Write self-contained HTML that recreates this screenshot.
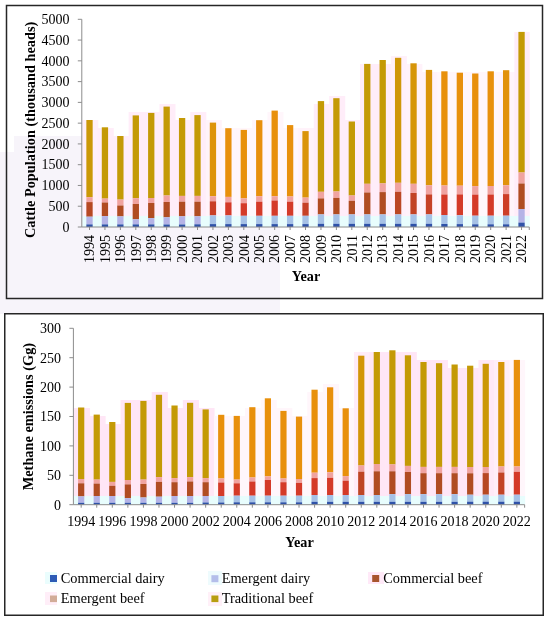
<!DOCTYPE html>
<html><head><meta charset="utf-8"><style>html,body{margin:0;padding:0;background:#fff;width:550px;height:621px;overflow:hidden}</style></head><body>
<svg width="550" height="621" viewBox="0 0 550 621" style="display:block;filter:blur(0.3px)">
<rect x="0" y="0" width="550" height="621" fill="#fff"/>
<rect x="0" y="152" width="280" height="162" fill="#F7F4FA"/>
<rect x="14" y="136" width="68" height="16" fill="#F7F4FA"/>
<rect x="6.5" y="5.5" width="536" height="293" fill="none" stroke="#262626" stroke-width="1.5"/>
<rect x="82.30" y="120" width="16.03" height="96.00" fill="#FFEFF9"/>
<rect x="97.73" y="128" width="16.03" height="88.00" fill="#FFEDF9"/>
<rect x="113.16" y="136" width="16.03" height="80.00" fill="#FFEDF9"/>
<rect x="128.59" y="112" width="16.03" height="104.00" fill="#FFEDF9"/>
<rect x="144.02" y="112" width="16.03" height="104.00" fill="#FFEDF9"/>
<rect x="159.45" y="104" width="16.03" height="112.00" fill="#FFEDF9"/>
<rect x="174.88" y="120" width="16.03" height="96.00" fill="#FFEDF9"/>
<rect x="190.31" y="112" width="16.03" height="104.00" fill="#FFEDF9"/>
<rect x="205.74" y="120" width="16.03" height="96.00" fill="#FFF3FA"/>
<rect x="221.17" y="128" width="16.03" height="88.00" fill="#FFF6FB"/>
<rect x="236.60" y="128" width="16.03" height="88.00" fill="#FFF6FB"/>
<rect x="252.03" y="120" width="16.03" height="96.00" fill="#FFF6FB"/>
<rect x="267.46" y="112" width="16.03" height="104.00" fill="#FFF6FB"/>
<rect x="282.89" y="128" width="16.03" height="88.00" fill="#FFF6FB"/>
<rect x="298.32" y="128" width="16.03" height="88.00" fill="#FFF2FA"/>
<rect x="313.75" y="104" width="16.03" height="112.00" fill="#FFEDF9"/>
<rect x="329.18" y="96" width="16.03" height="120.00" fill="#FFEDF9"/>
<rect x="344.61" y="120" width="16.03" height="96.00" fill="#FFEDF9"/>
<rect x="360.04" y="64" width="16.03" height="152.00" fill="#FFEDF9"/>
<rect x="375.47" y="64" width="16.03" height="152.00" fill="#FFEDF9"/>
<rect x="390.90" y="56" width="16.03" height="160.00" fill="#FFF0FA"/>
<rect x="406.33" y="64" width="16.03" height="152.00" fill="#FFF2FA"/>
<rect x="421.76" y="72" width="16.03" height="144.00" fill="#FFF2FA"/>
<rect x="437.19" y="72" width="16.03" height="144.00" fill="#FFF6FB"/>
<rect x="452.62" y="72" width="16.03" height="144.00" fill="#FFF6FB"/>
<rect x="468.05" y="72" width="16.03" height="144.00" fill="#FFF6FB"/>
<rect x="483.48" y="72" width="16.03" height="144.00" fill="#FFF6FB"/>
<rect x="498.91" y="72" width="16.03" height="144.00" fill="#FFF4FB"/>
<rect x="514.34" y="32" width="15.43" height="184.00" fill="#FFEDF9"/>
<rect x="82.30" y="216" width="447.47" height="11.00" fill="#E8FDFD"/>
<rect x="86.36" y="120.00" width="6.3" height="77.20" fill="#CB9807"/>
<rect x="86.36" y="197.20" width="6.3" height="4.90" fill="#F0A3A0"/>
<rect x="86.36" y="202.10" width="6.3" height="14.60" fill="#B74823"/>
<rect x="86.36" y="216.70" width="6.3" height="7.70" fill="#B5B3E6"/>
<rect x="86.36" y="224.40" width="6.3" height="2.60" fill="#2F52A8"/>
<rect x="101.79" y="127.30" width="6.3" height="71.30" fill="#C49A06"/>
<rect x="101.79" y="198.60" width="6.3" height="3.90" fill="#F0A3A0"/>
<rect x="101.79" y="202.50" width="6.3" height="13.60" fill="#B04C22"/>
<rect x="101.79" y="216.10" width="6.3" height="8.30" fill="#B5B3E6"/>
<rect x="101.79" y="224.40" width="6.3" height="2.60" fill="#2F52A8"/>
<rect x="117.22" y="136.00" width="6.3" height="63.60" fill="#C49A06"/>
<rect x="117.22" y="199.60" width="6.3" height="5.90" fill="#F0A3A0"/>
<rect x="117.22" y="205.50" width="6.3" height="10.90" fill="#B04C22"/>
<rect x="117.22" y="216.40" width="6.3" height="8.00" fill="#B5B3E6"/>
<rect x="117.22" y="224.40" width="6.3" height="2.60" fill="#2F52A8"/>
<rect x="132.66" y="115.40" width="6.3" height="82.80" fill="#C49A06"/>
<rect x="132.66" y="198.20" width="6.3" height="5.80" fill="#F0A3A0"/>
<rect x="132.66" y="204.00" width="6.3" height="15.30" fill="#B04C22"/>
<rect x="132.66" y="219.30" width="6.3" height="5.10" fill="#B5B3E6"/>
<rect x="132.66" y="224.40" width="6.3" height="2.60" fill="#2F52A8"/>
<rect x="148.09" y="112.90" width="6.3" height="85.10" fill="#C49A06"/>
<rect x="148.09" y="198.00" width="6.3" height="5.00" fill="#F0A3A0"/>
<rect x="148.09" y="203.00" width="6.3" height="15.10" fill="#B04C22"/>
<rect x="148.09" y="218.10" width="6.3" height="6.30" fill="#B5B3E6"/>
<rect x="148.09" y="224.40" width="6.3" height="2.60" fill="#2F52A8"/>
<rect x="163.51" y="106.60" width="6.3" height="88.90" fill="#C49A06"/>
<rect x="163.51" y="195.50" width="6.3" height="6.50" fill="#F0A3A0"/>
<rect x="163.51" y="202.00" width="6.3" height="15.30" fill="#B04C22"/>
<rect x="163.51" y="217.30" width="6.3" height="7.20" fill="#B5B3E6"/>
<rect x="163.51" y="224.50" width="6.3" height="2.50" fill="#2F52A8"/>
<rect x="178.94" y="118.00" width="6.3" height="77.90" fill="#C49A06"/>
<rect x="178.94" y="195.90" width="6.3" height="5.80" fill="#F0A3A0"/>
<rect x="178.94" y="201.70" width="6.3" height="14.60" fill="#B04C22"/>
<rect x="178.94" y="216.30" width="6.3" height="8.20" fill="#B5B3E6"/>
<rect x="178.94" y="224.50" width="6.3" height="2.50" fill="#2F52A8"/>
<rect x="194.37" y="115.10" width="6.3" height="80.80" fill="#C49A06"/>
<rect x="194.37" y="195.90" width="6.3" height="5.80" fill="#F0A3A0"/>
<rect x="194.37" y="201.70" width="6.3" height="14.60" fill="#B04C22"/>
<rect x="194.37" y="216.30" width="6.3" height="8.00" fill="#B5B3E6"/>
<rect x="194.37" y="224.30" width="6.3" height="2.70" fill="#2F52A8"/>
<rect x="209.80" y="122.60" width="6.3" height="73.60" fill="#DD930A"/>
<rect x="209.80" y="196.20" width="6.3" height="5.10" fill="#F0A3A0"/>
<rect x="209.80" y="201.30" width="6.3" height="14.10" fill="#C93F26"/>
<rect x="209.80" y="215.40" width="6.3" height="8.70" fill="#A6C1E6"/>
<rect x="209.80" y="224.10" width="6.3" height="2.90" fill="#2F52A8"/>
<rect x="225.23" y="128.20" width="6.3" height="68.70" fill="#E8900C"/>
<rect x="225.23" y="196.90" width="6.3" height="5.40" fill="#F0A3A0"/>
<rect x="225.23" y="202.30" width="6.3" height="13.10" fill="#D43A28"/>
<rect x="225.23" y="215.40" width="6.3" height="8.70" fill="#A6C1E6"/>
<rect x="225.23" y="224.10" width="6.3" height="2.90" fill="#2F52A8"/>
<rect x="240.66" y="129.90" width="6.3" height="68.50" fill="#E8900C"/>
<rect x="240.66" y="198.40" width="6.3" height="4.80" fill="#F0A3A0"/>
<rect x="240.66" y="203.20" width="6.3" height="12.60" fill="#D43A28"/>
<rect x="240.66" y="215.80" width="6.3" height="8.30" fill="#A6C1E6"/>
<rect x="240.66" y="224.10" width="6.3" height="2.90" fill="#2F52A8"/>
<rect x="256.10" y="120.20" width="6.3" height="76.00" fill="#E8900C"/>
<rect x="256.10" y="196.20" width="6.3" height="5.50" fill="#F0A3A0"/>
<rect x="256.10" y="201.70" width="6.3" height="14.10" fill="#D43A28"/>
<rect x="256.10" y="215.80" width="6.3" height="8.30" fill="#A6C1E6"/>
<rect x="256.10" y="224.10" width="6.3" height="2.90" fill="#2F52A8"/>
<rect x="271.53" y="110.60" width="6.3" height="85.60" fill="#E8900C"/>
<rect x="271.53" y="196.20" width="6.3" height="4.30" fill="#F0A3A0"/>
<rect x="271.53" y="200.50" width="6.3" height="15.30" fill="#D43A28"/>
<rect x="271.53" y="215.80" width="6.3" height="8.30" fill="#A6C1E6"/>
<rect x="271.53" y="224.10" width="6.3" height="2.90" fill="#2F52A8"/>
<rect x="286.96" y="125.10" width="6.3" height="71.40" fill="#E8900C"/>
<rect x="286.96" y="196.50" width="6.3" height="5.20" fill="#F0A3A0"/>
<rect x="286.96" y="201.70" width="6.3" height="14.10" fill="#D43A28"/>
<rect x="286.96" y="215.80" width="6.3" height="8.30" fill="#A6C1E6"/>
<rect x="286.96" y="224.10" width="6.3" height="2.90" fill="#2F52A8"/>
<rect x="302.38" y="131.10" width="6.3" height="66.50" fill="#DA940A"/>
<rect x="302.38" y="197.60" width="6.3" height="5.10" fill="#F0A3A0"/>
<rect x="302.38" y="202.70" width="6.3" height="13.10" fill="#C64126"/>
<rect x="302.38" y="215.80" width="6.3" height="8.30" fill="#A6C1E6"/>
<rect x="302.38" y="224.10" width="6.3" height="2.90" fill="#2F52A8"/>
<rect x="317.81" y="101.10" width="6.3" height="90.70" fill="#C49A06"/>
<rect x="317.81" y="191.80" width="6.3" height="6.60" fill="#F0A3A0"/>
<rect x="317.81" y="198.40" width="6.3" height="16.00" fill="#B04C22"/>
<rect x="317.81" y="214.40" width="6.3" height="9.40" fill="#A6C1E6"/>
<rect x="317.81" y="223.80" width="6.3" height="3.20" fill="#2F52A8"/>
<rect x="333.25" y="98.20" width="6.3" height="93.30" fill="#C49A06"/>
<rect x="333.25" y="191.50" width="6.3" height="6.40" fill="#F0A3A0"/>
<rect x="333.25" y="197.90" width="6.3" height="16.50" fill="#B04C22"/>
<rect x="333.25" y="214.40" width="6.3" height="9.40" fill="#A6C1E6"/>
<rect x="333.25" y="223.80" width="6.3" height="3.20" fill="#2F52A8"/>
<rect x="348.68" y="121.50" width="6.3" height="74.00" fill="#C49A06"/>
<rect x="348.68" y="195.50" width="6.3" height="5.30" fill="#F0A3A0"/>
<rect x="348.68" y="200.80" width="6.3" height="13.60" fill="#B04C22"/>
<rect x="348.68" y="214.40" width="6.3" height="9.40" fill="#A6C1E6"/>
<rect x="348.68" y="223.80" width="6.3" height="3.20" fill="#2F52A8"/>
<rect x="364.11" y="63.90" width="6.3" height="119.90" fill="#C49A06"/>
<rect x="364.11" y="183.80" width="6.3" height="8.70" fill="#F0A3A0"/>
<rect x="364.11" y="192.50" width="6.3" height="21.90" fill="#B04C22"/>
<rect x="364.11" y="214.40" width="6.3" height="9.40" fill="#A6C1E6"/>
<rect x="364.11" y="223.80" width="6.3" height="3.20" fill="#2F52A8"/>
<rect x="379.54" y="60.00" width="6.3" height="123.40" fill="#C49A06"/>
<rect x="379.54" y="183.40" width="6.3" height="8.70" fill="#F0A3A0"/>
<rect x="379.54" y="192.10" width="6.3" height="22.30" fill="#B04C22"/>
<rect x="379.54" y="214.40" width="6.3" height="9.40" fill="#A6C1E6"/>
<rect x="379.54" y="223.80" width="6.3" height="3.20" fill="#2F52A8"/>
<rect x="394.97" y="57.80" width="6.3" height="125.00" fill="#CF9708"/>
<rect x="394.97" y="182.80" width="6.3" height="9.00" fill="#F0A3A0"/>
<rect x="394.97" y="191.80" width="6.3" height="22.60" fill="#BB4724"/>
<rect x="394.97" y="214.40" width="6.3" height="9.40" fill="#A6C1E6"/>
<rect x="394.97" y="223.80" width="6.3" height="3.20" fill="#2F52A8"/>
<rect x="410.40" y="63.30" width="6.3" height="120.50" fill="#D69509"/>
<rect x="410.40" y="183.80" width="6.3" height="9.20" fill="#F0A3A0"/>
<rect x="410.40" y="193.00" width="6.3" height="21.40" fill="#C24325"/>
<rect x="410.40" y="214.40" width="6.3" height="9.40" fill="#A6C1E6"/>
<rect x="410.40" y="223.80" width="6.3" height="3.20" fill="#2F52A8"/>
<rect x="425.83" y="69.90" width="6.3" height="115.40" fill="#DA940A"/>
<rect x="425.83" y="185.30" width="6.3" height="9.10" fill="#F0A3A0"/>
<rect x="425.83" y="194.40" width="6.3" height="20.00" fill="#C64126"/>
<rect x="425.83" y="214.40" width="6.3" height="9.40" fill="#A6C1E6"/>
<rect x="425.83" y="223.80" width="6.3" height="3.20" fill="#2F52A8"/>
<rect x="441.26" y="71.30" width="6.3" height="114.20" fill="#E8900C"/>
<rect x="441.26" y="185.50" width="6.3" height="9.00" fill="#F0A3A0"/>
<rect x="441.26" y="194.50" width="6.3" height="20.50" fill="#D43A28"/>
<rect x="441.26" y="215.00" width="6.3" height="9.00" fill="#A6C1E6"/>
<rect x="441.26" y="224.00" width="6.3" height="3.00" fill="#2F52A8"/>
<rect x="456.69" y="72.70" width="6.3" height="113.00" fill="#E8900C"/>
<rect x="456.69" y="185.70" width="6.3" height="8.70" fill="#F0A3A0"/>
<rect x="456.69" y="194.40" width="6.3" height="20.80" fill="#D43A28"/>
<rect x="456.69" y="215.20" width="6.3" height="8.90" fill="#A6C1E6"/>
<rect x="456.69" y="224.10" width="6.3" height="2.90" fill="#2F52A8"/>
<rect x="472.12" y="73.50" width="6.3" height="112.60" fill="#E8900C"/>
<rect x="472.12" y="186.10" width="6.3" height="8.50" fill="#F0A3A0"/>
<rect x="472.12" y="194.60" width="6.3" height="21.10" fill="#D43A28"/>
<rect x="472.12" y="215.70" width="6.3" height="8.60" fill="#A6C1E6"/>
<rect x="472.12" y="224.30" width="6.3" height="2.70" fill="#2F52A8"/>
<rect x="487.55" y="71.30" width="6.3" height="114.70" fill="#E8900C"/>
<rect x="487.55" y="186.00" width="6.3" height="8.50" fill="#F0A3A0"/>
<rect x="487.55" y="194.50" width="6.3" height="21.20" fill="#D43A28"/>
<rect x="487.55" y="215.70" width="6.3" height="8.60" fill="#A6C1E6"/>
<rect x="487.55" y="224.30" width="6.3" height="2.70" fill="#2F52A8"/>
<rect x="502.98" y="70.20" width="6.3" height="115.00" fill="#E1920B"/>
<rect x="502.98" y="185.20" width="6.3" height="8.90" fill="#F0A3A0"/>
<rect x="502.98" y="194.10" width="6.3" height="21.60" fill="#CD3E27"/>
<rect x="502.98" y="215.70" width="6.3" height="8.60" fill="#A6C1E6"/>
<rect x="502.98" y="224.30" width="6.3" height="2.70" fill="#2F52A8"/>
<rect x="518.40" y="31.90" width="6.3" height="140.60" fill="#C49A06"/>
<rect x="518.40" y="172.50" width="6.3" height="11.00" fill="#F0A3A0"/>
<rect x="518.40" y="183.50" width="6.3" height="25.50" fill="#B04C22"/>
<rect x="518.40" y="209.00" width="6.3" height="13.60" fill="#B5B3E6"/>
<rect x="518.40" y="222.60" width="6.3" height="4.40" fill="#2F52A8"/>
<path d="M81.80 19.3 V227.0 H529.27" fill="none" stroke="#8c8c8c" stroke-width="1"/>
<path d="M77.80 227.00 H81.80" stroke="#8c8c8c" stroke-width="1"/>
<text x="69.5" y="231.80" text-anchor="end" style="font-family:'Liberation Serif',serif;font-size:14px" fill="#000">0</text>
<path d="M77.80 206.23 H81.80" stroke="#8c8c8c" stroke-width="1"/>
<text x="69.5" y="211.03" text-anchor="end" style="font-family:'Liberation Serif',serif;font-size:14px" fill="#000">500</text>
<path d="M77.80 185.46 H81.80" stroke="#8c8c8c" stroke-width="1"/>
<text x="69.5" y="190.26" text-anchor="end" style="font-family:'Liberation Serif',serif;font-size:14px" fill="#000">1000</text>
<path d="M77.80 164.69 H81.80" stroke="#8c8c8c" stroke-width="1"/>
<text x="69.5" y="169.49" text-anchor="end" style="font-family:'Liberation Serif',serif;font-size:14px" fill="#000">1500</text>
<path d="M77.80 143.92 H81.80" stroke="#8c8c8c" stroke-width="1"/>
<text x="69.5" y="148.72" text-anchor="end" style="font-family:'Liberation Serif',serif;font-size:14px" fill="#000">2000</text>
<path d="M77.80 123.15 H81.80" stroke="#8c8c8c" stroke-width="1"/>
<text x="69.5" y="127.95" text-anchor="end" style="font-family:'Liberation Serif',serif;font-size:14px" fill="#000">2500</text>
<path d="M77.80 102.38 H81.80" stroke="#8c8c8c" stroke-width="1"/>
<text x="69.5" y="107.18" text-anchor="end" style="font-family:'Liberation Serif',serif;font-size:14px" fill="#000">3000</text>
<path d="M77.80 81.61 H81.80" stroke="#8c8c8c" stroke-width="1"/>
<text x="69.5" y="86.41" text-anchor="end" style="font-family:'Liberation Serif',serif;font-size:14px" fill="#000">3500</text>
<path d="M77.80 60.84 H81.80" stroke="#8c8c8c" stroke-width="1"/>
<text x="69.5" y="65.64" text-anchor="end" style="font-family:'Liberation Serif',serif;font-size:14px" fill="#000">4000</text>
<path d="M77.80 40.07 H81.80" stroke="#8c8c8c" stroke-width="1"/>
<text x="69.5" y="44.87" text-anchor="end" style="font-family:'Liberation Serif',serif;font-size:14px" fill="#000">4500</text>
<path d="M77.80 19.30 H81.80" stroke="#8c8c8c" stroke-width="1"/>
<text x="69.5" y="24.10" text-anchor="end" style="font-family:'Liberation Serif',serif;font-size:14px" fill="#000">5000</text>
<path d="M89.52 227.0 v3" stroke="#8c8c8c" stroke-width="1"/>
<path d="M104.94 227.0 v3" stroke="#8c8c8c" stroke-width="1"/>
<path d="M120.38 227.0 v3" stroke="#8c8c8c" stroke-width="1"/>
<path d="M135.81 227.0 v3" stroke="#8c8c8c" stroke-width="1"/>
<path d="M151.24 227.0 v3" stroke="#8c8c8c" stroke-width="1"/>
<path d="M166.66 227.0 v3" stroke="#8c8c8c" stroke-width="1"/>
<path d="M182.09 227.0 v3" stroke="#8c8c8c" stroke-width="1"/>
<path d="M197.52 227.0 v3" stroke="#8c8c8c" stroke-width="1"/>
<path d="M212.95 227.0 v3" stroke="#8c8c8c" stroke-width="1"/>
<path d="M228.38 227.0 v3" stroke="#8c8c8c" stroke-width="1"/>
<path d="M243.81 227.0 v3" stroke="#8c8c8c" stroke-width="1"/>
<path d="M259.25 227.0 v3" stroke="#8c8c8c" stroke-width="1"/>
<path d="M274.68 227.0 v3" stroke="#8c8c8c" stroke-width="1"/>
<path d="M290.11 227.0 v3" stroke="#8c8c8c" stroke-width="1"/>
<path d="M305.53 227.0 v3" stroke="#8c8c8c" stroke-width="1"/>
<path d="M320.96 227.0 v3" stroke="#8c8c8c" stroke-width="1"/>
<path d="M336.39 227.0 v3" stroke="#8c8c8c" stroke-width="1"/>
<path d="M351.82 227.0 v3" stroke="#8c8c8c" stroke-width="1"/>
<path d="M367.25 227.0 v3" stroke="#8c8c8c" stroke-width="1"/>
<path d="M382.69 227.0 v3" stroke="#8c8c8c" stroke-width="1"/>
<path d="M398.12 227.0 v3" stroke="#8c8c8c" stroke-width="1"/>
<path d="M413.55 227.0 v3" stroke="#8c8c8c" stroke-width="1"/>
<path d="M428.98 227.0 v3" stroke="#8c8c8c" stroke-width="1"/>
<path d="M444.41 227.0 v3" stroke="#8c8c8c" stroke-width="1"/>
<path d="M459.83 227.0 v3" stroke="#8c8c8c" stroke-width="1"/>
<path d="M475.26 227.0 v3" stroke="#8c8c8c" stroke-width="1"/>
<path d="M490.69 227.0 v3" stroke="#8c8c8c" stroke-width="1"/>
<path d="M506.12 227.0 v3" stroke="#8c8c8c" stroke-width="1"/>
<path d="M521.55 227.0 v3" stroke="#8c8c8c" stroke-width="1"/>
<path d="M529.27 227.0 v3" stroke="#8c8c8c" stroke-width="1"/>
<text transform="translate(94.22 235) rotate(-90)" text-anchor="end" style="font-family:'Liberation Serif',serif;font-size:14px" fill="#000">1994</text>
<text transform="translate(109.64 235) rotate(-90)" text-anchor="end" style="font-family:'Liberation Serif',serif;font-size:14px" fill="#000">1995</text>
<text transform="translate(125.08 235) rotate(-90)" text-anchor="end" style="font-family:'Liberation Serif',serif;font-size:14px" fill="#000">1996</text>
<text transform="translate(140.50 235) rotate(-90)" text-anchor="end" style="font-family:'Liberation Serif',serif;font-size:14px" fill="#000">1997</text>
<text transform="translate(155.94 235) rotate(-90)" text-anchor="end" style="font-family:'Liberation Serif',serif;font-size:14px" fill="#000">1998</text>
<text transform="translate(171.36 235) rotate(-90)" text-anchor="end" style="font-family:'Liberation Serif',serif;font-size:14px" fill="#000">1999</text>
<text transform="translate(186.79 235) rotate(-90)" text-anchor="end" style="font-family:'Liberation Serif',serif;font-size:14px" fill="#000">2000</text>
<text transform="translate(202.22 235) rotate(-90)" text-anchor="end" style="font-family:'Liberation Serif',serif;font-size:14px" fill="#000">2001</text>
<text transform="translate(217.65 235) rotate(-90)" text-anchor="end" style="font-family:'Liberation Serif',serif;font-size:14px" fill="#000">2002</text>
<text transform="translate(233.08 235) rotate(-90)" text-anchor="end" style="font-family:'Liberation Serif',serif;font-size:14px" fill="#000">2003</text>
<text transform="translate(248.51 235) rotate(-90)" text-anchor="end" style="font-family:'Liberation Serif',serif;font-size:14px" fill="#000">2004</text>
<text transform="translate(263.94 235) rotate(-90)" text-anchor="end" style="font-family:'Liberation Serif',serif;font-size:14px" fill="#000">2005</text>
<text transform="translate(279.38 235) rotate(-90)" text-anchor="end" style="font-family:'Liberation Serif',serif;font-size:14px" fill="#000">2006</text>
<text transform="translate(294.81 235) rotate(-90)" text-anchor="end" style="font-family:'Liberation Serif',serif;font-size:14px" fill="#000">2007</text>
<text transform="translate(310.23 235) rotate(-90)" text-anchor="end" style="font-family:'Liberation Serif',serif;font-size:14px" fill="#000">2008</text>
<text transform="translate(325.66 235) rotate(-90)" text-anchor="end" style="font-family:'Liberation Serif',serif;font-size:14px" fill="#000">2009</text>
<text transform="translate(341.09 235) rotate(-90)" text-anchor="end" style="font-family:'Liberation Serif',serif;font-size:14px" fill="#000">2010</text>
<text transform="translate(356.52 235) rotate(-90)" text-anchor="end" style="font-family:'Liberation Serif',serif;font-size:14px" fill="#000">2011</text>
<text transform="translate(371.95 235) rotate(-90)" text-anchor="end" style="font-family:'Liberation Serif',serif;font-size:14px" fill="#000">2012</text>
<text transform="translate(387.38 235) rotate(-90)" text-anchor="end" style="font-family:'Liberation Serif',serif;font-size:14px" fill="#000">2013</text>
<text transform="translate(402.81 235) rotate(-90)" text-anchor="end" style="font-family:'Liberation Serif',serif;font-size:14px" fill="#000">2014</text>
<text transform="translate(418.25 235) rotate(-90)" text-anchor="end" style="font-family:'Liberation Serif',serif;font-size:14px" fill="#000">2015</text>
<text transform="translate(433.68 235) rotate(-90)" text-anchor="end" style="font-family:'Liberation Serif',serif;font-size:14px" fill="#000">2016</text>
<text transform="translate(449.11 235) rotate(-90)" text-anchor="end" style="font-family:'Liberation Serif',serif;font-size:14px" fill="#000">2017</text>
<text transform="translate(464.53 235) rotate(-90)" text-anchor="end" style="font-family:'Liberation Serif',serif;font-size:14px" fill="#000">2018</text>
<text transform="translate(479.96 235) rotate(-90)" text-anchor="end" style="font-family:'Liberation Serif',serif;font-size:14px" fill="#000">2019</text>
<text transform="translate(495.39 235) rotate(-90)" text-anchor="end" style="font-family:'Liberation Serif',serif;font-size:14px" fill="#000">2020</text>
<text transform="translate(510.82 235) rotate(-90)" text-anchor="end" style="font-family:'Liberation Serif',serif;font-size:14px" fill="#000">2021</text>
<text transform="translate(526.25 235) rotate(-90)" text-anchor="end" style="font-family:'Liberation Serif',serif;font-size:14px" fill="#000">2022</text>
<text transform="translate(34.5 129.9) rotate(-90)" text-anchor="middle" style="font-family:'Liberation Serif',serif;font-size:14.35px;font-weight:bold" fill="#000">Cattle Population (thousand heads)</text>
<text x="306" y="281.4" text-anchor="middle" style="font-family:'Liberation Serif',serif;font-size:14.2px;font-weight:bold" fill="#000">Year</text>
<rect x="4.75" y="313.75" width="538.5" height="301.5" fill="none" stroke="#262626" stroke-width="1.5"/>
<rect x="73.90" y="408" width="16.16" height="88.00" fill="#FFE6F6"/>
<rect x="89.46" y="416" width="16.16" height="80.00" fill="#FFE6F6"/>
<rect x="105.02" y="424" width="16.16" height="72.00" fill="#FFE6F6"/>
<rect x="120.58" y="400" width="16.16" height="96.00" fill="#FFE6F6"/>
<rect x="136.14" y="400" width="16.16" height="96.00" fill="#FFE6F6"/>
<rect x="151.70" y="392" width="16.16" height="104.00" fill="#FFE6F6"/>
<rect x="167.26" y="408" width="16.16" height="88.00" fill="#FFE6F6"/>
<rect x="182.82" y="400" width="16.16" height="96.00" fill="#FFE6F6"/>
<rect x="198.38" y="408" width="16.16" height="88.00" fill="#FFE6F6"/>
<rect x="213.94" y="416" width="16.16" height="80.00" fill="#FFF6FB"/>
<rect x="229.50" y="416" width="16.16" height="80.00" fill="#FFF6FB"/>
<rect x="245.06" y="408" width="16.16" height="88.00" fill="#FFF6FB"/>
<rect x="260.62" y="400" width="16.16" height="96.00" fill="#FFF6FB"/>
<rect x="276.18" y="408" width="16.16" height="88.00" fill="#FFF6FB"/>
<rect x="291.74" y="416" width="16.16" height="80.00" fill="#FFF6FB"/>
<rect x="307.30" y="392" width="16.16" height="104.00" fill="#FFF6FB"/>
<rect x="322.86" y="384" width="16.16" height="112.00" fill="#FFF6FB"/>
<rect x="338.42" y="408" width="16.16" height="88.00" fill="#FFF6FB"/>
<rect x="353.98" y="352" width="16.16" height="144.00" fill="#FFECF8"/>
<rect x="369.54" y="352" width="16.16" height="144.00" fill="#FFE6F6"/>
<rect x="385.10" y="352" width="16.16" height="144.00" fill="#FFE6F6"/>
<rect x="400.66" y="352" width="16.16" height="144.00" fill="#FFE6F6"/>
<rect x="416.22" y="360" width="16.16" height="136.00" fill="#FFE6F6"/>
<rect x="431.78" y="360" width="16.16" height="136.00" fill="#FFE6F6"/>
<rect x="447.34" y="368" width="16.16" height="128.00" fill="#FFE6F6"/>
<rect x="462.90" y="368" width="16.16" height="128.00" fill="#FFE6F6"/>
<rect x="478.46" y="360" width="16.16" height="136.00" fill="#FFE9F7"/>
<rect x="494.02" y="360" width="16.16" height="136.00" fill="#FFEEF8"/>
<rect x="509.58" y="360" width="15.56" height="136.00" fill="#FFF6FB"/>
<rect x="73.90" y="496" width="451.24" height="8.70" fill="#E8FDFD"/>
<rect x="78.08" y="407.50" width="6.2" height="71.50" fill="#C49A06"/>
<rect x="78.08" y="479.00" width="6.2" height="4.30" fill="#F0A3A0"/>
<rect x="78.08" y="483.30" width="6.2" height="13.10" fill="#B04C22"/>
<rect x="78.08" y="496.40" width="6.2" height="6.40" fill="#B5B3E6"/>
<rect x="78.08" y="502.80" width="6.2" height="1.90" fill="#2F52A8"/>
<rect x="93.64" y="414.60" width="6.2" height="65.00" fill="#C49A06"/>
<rect x="93.64" y="479.60" width="6.2" height="4.00" fill="#F0A3A0"/>
<rect x="93.64" y="483.60" width="6.2" height="12.40" fill="#B04C22"/>
<rect x="93.64" y="496.00" width="6.2" height="6.80" fill="#B5B3E6"/>
<rect x="93.64" y="502.80" width="6.2" height="1.90" fill="#2F52A8"/>
<rect x="109.20" y="422.00" width="6.2" height="59.90" fill="#C49A06"/>
<rect x="109.20" y="481.90" width="6.2" height="3.90" fill="#F0A3A0"/>
<rect x="109.20" y="485.80" width="6.2" height="10.20" fill="#B04C22"/>
<rect x="109.20" y="496.00" width="6.2" height="6.80" fill="#B5B3E6"/>
<rect x="109.20" y="502.80" width="6.2" height="1.90" fill="#2F52A8"/>
<rect x="124.76" y="402.90" width="6.2" height="77.10" fill="#C49A06"/>
<rect x="124.76" y="480.00" width="6.2" height="4.40" fill="#F0A3A0"/>
<rect x="124.76" y="484.40" width="6.2" height="13.80" fill="#B04C22"/>
<rect x="124.76" y="498.20" width="6.2" height="4.60" fill="#B5B3E6"/>
<rect x="124.76" y="502.80" width="6.2" height="1.90" fill="#2F52A8"/>
<rect x="140.32" y="400.90" width="6.2" height="78.70" fill="#C49A06"/>
<rect x="140.32" y="479.60" width="6.2" height="4.40" fill="#F0A3A0"/>
<rect x="140.32" y="484.00" width="6.2" height="13.50" fill="#B04C22"/>
<rect x="140.32" y="497.50" width="6.2" height="5.30" fill="#B5B3E6"/>
<rect x="140.32" y="502.80" width="6.2" height="1.90" fill="#2F52A8"/>
<rect x="155.88" y="394.80" width="6.2" height="82.30" fill="#C49A06"/>
<rect x="155.88" y="477.10" width="6.2" height="4.80" fill="#F0A3A0"/>
<rect x="155.88" y="481.90" width="6.2" height="14.80" fill="#B04C22"/>
<rect x="155.88" y="496.70" width="6.2" height="6.10" fill="#B5B3E6"/>
<rect x="155.88" y="502.80" width="6.2" height="1.90" fill="#2F52A8"/>
<rect x="171.44" y="405.50" width="6.2" height="72.60" fill="#C49A06"/>
<rect x="171.44" y="478.10" width="6.2" height="4.10" fill="#F0A3A0"/>
<rect x="171.44" y="482.20" width="6.2" height="13.80" fill="#B04C22"/>
<rect x="171.44" y="496.00" width="6.2" height="6.80" fill="#B5B3E6"/>
<rect x="171.44" y="502.80" width="6.2" height="1.90" fill="#2F52A8"/>
<rect x="187.00" y="402.80" width="6.2" height="74.30" fill="#C49A06"/>
<rect x="187.00" y="477.10" width="6.2" height="4.40" fill="#F0A3A0"/>
<rect x="187.00" y="481.50" width="6.2" height="14.50" fill="#B04C22"/>
<rect x="187.00" y="496.00" width="6.2" height="6.80" fill="#B5B3E6"/>
<rect x="187.00" y="502.80" width="6.2" height="1.90" fill="#2F52A8"/>
<rect x="202.56" y="409.40" width="6.2" height="68.70" fill="#C49A06"/>
<rect x="202.56" y="478.10" width="6.2" height="4.10" fill="#F0A3A0"/>
<rect x="202.56" y="482.20" width="6.2" height="13.80" fill="#B04C22"/>
<rect x="202.56" y="496.00" width="6.2" height="6.50" fill="#B5B3E6"/>
<rect x="202.56" y="502.50" width="6.2" height="2.20" fill="#2F52A8"/>
<rect x="218.12" y="414.80" width="6.2" height="63.70" fill="#E8900C"/>
<rect x="218.12" y="478.50" width="6.2" height="4.00" fill="#F0A3A0"/>
<rect x="218.12" y="482.50" width="6.2" height="13.50" fill="#D43A28"/>
<rect x="218.12" y="496.00" width="6.2" height="6.50" fill="#A6C1E6"/>
<rect x="218.12" y="502.50" width="6.2" height="2.20" fill="#2F52A8"/>
<rect x="233.68" y="415.90" width="6.2" height="63.70" fill="#E8900C"/>
<rect x="233.68" y="479.60" width="6.2" height="3.70" fill="#F0A3A0"/>
<rect x="233.68" y="483.30" width="6.2" height="12.40" fill="#D43A28"/>
<rect x="233.68" y="495.70" width="6.2" height="6.60" fill="#A6C1E6"/>
<rect x="233.68" y="502.30" width="6.2" height="2.40" fill="#2F52A8"/>
<rect x="249.24" y="407.20" width="6.2" height="70.30" fill="#E8900C"/>
<rect x="249.24" y="477.50" width="6.2" height="4.00" fill="#F0A3A0"/>
<rect x="249.24" y="481.50" width="6.2" height="14.20" fill="#D43A28"/>
<rect x="249.24" y="495.70" width="6.2" height="6.60" fill="#A6C1E6"/>
<rect x="249.24" y="502.30" width="6.2" height="2.40" fill="#2F52A8"/>
<rect x="264.80" y="398.30" width="6.2" height="78.10" fill="#E8900C"/>
<rect x="264.80" y="476.40" width="6.2" height="3.60" fill="#F0A3A0"/>
<rect x="264.80" y="480.00" width="6.2" height="15.70" fill="#D43A28"/>
<rect x="264.80" y="495.70" width="6.2" height="6.60" fill="#A6C1E6"/>
<rect x="264.80" y="502.30" width="6.2" height="2.40" fill="#2F52A8"/>
<rect x="280.36" y="410.90" width="6.2" height="67.60" fill="#E8900C"/>
<rect x="280.36" y="478.50" width="6.2" height="3.70" fill="#F0A3A0"/>
<rect x="280.36" y="482.20" width="6.2" height="13.50" fill="#D43A28"/>
<rect x="280.36" y="495.70" width="6.2" height="6.60" fill="#A6C1E6"/>
<rect x="280.36" y="502.30" width="6.2" height="2.40" fill="#2F52A8"/>
<rect x="295.92" y="416.60" width="6.2" height="62.40" fill="#E8900C"/>
<rect x="295.92" y="479.00" width="6.2" height="3.90" fill="#F0A3A0"/>
<rect x="295.92" y="482.90" width="6.2" height="12.80" fill="#D43A28"/>
<rect x="295.92" y="495.70" width="6.2" height="6.60" fill="#A6C1E6"/>
<rect x="295.92" y="502.30" width="6.2" height="2.40" fill="#2F52A8"/>
<rect x="311.48" y="389.70" width="6.2" height="83.00" fill="#E8900C"/>
<rect x="311.48" y="472.70" width="6.2" height="5.40" fill="#F0A3A0"/>
<rect x="311.48" y="478.10" width="6.2" height="16.90" fill="#D43A28"/>
<rect x="311.48" y="495.00" width="6.2" height="6.80" fill="#A6C1E6"/>
<rect x="311.48" y="501.80" width="6.2" height="2.90" fill="#2F52A8"/>
<rect x="327.04" y="387.30" width="6.2" height="85.00" fill="#E8900C"/>
<rect x="327.04" y="472.30" width="6.2" height="5.50" fill="#F0A3A0"/>
<rect x="327.04" y="477.80" width="6.2" height="17.20" fill="#D43A28"/>
<rect x="327.04" y="495.00" width="6.2" height="6.80" fill="#A6C1E6"/>
<rect x="327.04" y="501.80" width="6.2" height="2.90" fill="#2F52A8"/>
<rect x="342.60" y="408.30" width="6.2" height="67.80" fill="#E8900C"/>
<rect x="342.60" y="476.10" width="6.2" height="4.60" fill="#F0A3A0"/>
<rect x="342.60" y="480.70" width="6.2" height="14.30" fill="#D43A28"/>
<rect x="342.60" y="495.00" width="6.2" height="6.80" fill="#A6C1E6"/>
<rect x="342.60" y="501.80" width="6.2" height="2.90" fill="#2F52A8"/>
<rect x="358.16" y="355.70" width="6.2" height="109.80" fill="#D29608"/>
<rect x="358.16" y="465.50" width="6.2" height="6.20" fill="#F0A3A0"/>
<rect x="358.16" y="471.70" width="6.2" height="23.30" fill="#BE4524"/>
<rect x="358.16" y="495.00" width="6.2" height="6.80" fill="#A6C1E6"/>
<rect x="358.16" y="501.80" width="6.2" height="2.90" fill="#2F52A8"/>
<rect x="373.72" y="352.00" width="6.2" height="112.00" fill="#C49A06"/>
<rect x="373.72" y="464.00" width="6.2" height="7.30" fill="#F0A3A0"/>
<rect x="373.72" y="471.30" width="6.2" height="23.70" fill="#B04C22"/>
<rect x="373.72" y="495.00" width="6.2" height="6.80" fill="#A6C1E6"/>
<rect x="373.72" y="501.80" width="6.2" height="2.90" fill="#2F52A8"/>
<rect x="389.28" y="350.30" width="6.2" height="114.10" fill="#C49A06"/>
<rect x="389.28" y="464.40" width="6.2" height="6.90" fill="#F0A3A0"/>
<rect x="389.28" y="471.30" width="6.2" height="22.80" fill="#B04C22"/>
<rect x="389.28" y="494.10" width="6.2" height="7.70" fill="#A6C1E6"/>
<rect x="389.28" y="501.80" width="6.2" height="2.90" fill="#2F52A8"/>
<rect x="404.84" y="355.30" width="6.2" height="110.60" fill="#C49A06"/>
<rect x="404.84" y="465.90" width="6.2" height="6.10" fill="#F0A3A0"/>
<rect x="404.84" y="472.00" width="6.2" height="22.10" fill="#B04C22"/>
<rect x="404.84" y="494.10" width="6.2" height="7.70" fill="#A6C1E6"/>
<rect x="404.84" y="501.80" width="6.2" height="2.90" fill="#2F52A8"/>
<rect x="420.40" y="362.00" width="6.2" height="104.90" fill="#C49A06"/>
<rect x="420.40" y="466.90" width="6.2" height="6.30" fill="#F0A3A0"/>
<rect x="420.40" y="473.20" width="6.2" height="20.90" fill="#B04C22"/>
<rect x="420.40" y="494.10" width="6.2" height="7.70" fill="#A6C1E6"/>
<rect x="420.40" y="501.80" width="6.2" height="2.90" fill="#2F52A8"/>
<rect x="435.96" y="363.20" width="6.2" height="103.70" fill="#C49A06"/>
<rect x="435.96" y="466.90" width="6.2" height="6.30" fill="#F0A3A0"/>
<rect x="435.96" y="473.20" width="6.2" height="20.90" fill="#B04C22"/>
<rect x="435.96" y="494.10" width="6.2" height="7.70" fill="#A6C1E6"/>
<rect x="435.96" y="501.80" width="6.2" height="2.90" fill="#2F52A8"/>
<rect x="451.52" y="364.50" width="6.2" height="102.40" fill="#C49A06"/>
<rect x="451.52" y="466.90" width="6.2" height="6.30" fill="#F0A3A0"/>
<rect x="451.52" y="473.20" width="6.2" height="20.90" fill="#B04C22"/>
<rect x="451.52" y="494.10" width="6.2" height="7.70" fill="#A6C1E6"/>
<rect x="451.52" y="501.80" width="6.2" height="2.90" fill="#2F52A8"/>
<rect x="467.08" y="365.70" width="6.2" height="101.30" fill="#C49A06"/>
<rect x="467.08" y="467.00" width="6.2" height="6.30" fill="#F0A3A0"/>
<rect x="467.08" y="473.30" width="6.2" height="21.40" fill="#B04C22"/>
<rect x="467.08" y="494.70" width="6.2" height="7.00" fill="#A6C1E6"/>
<rect x="467.08" y="501.70" width="6.2" height="3.00" fill="#2F52A8"/>
<rect x="482.64" y="363.80" width="6.2" height="103.20" fill="#CB9807"/>
<rect x="482.64" y="467.00" width="6.2" height="6.10" fill="#F0A3A0"/>
<rect x="482.64" y="473.10" width="6.2" height="21.60" fill="#B74823"/>
<rect x="482.64" y="494.70" width="6.2" height="7.00" fill="#A6C1E6"/>
<rect x="482.64" y="501.70" width="6.2" height="3.00" fill="#2F52A8"/>
<rect x="498.20" y="362.00" width="6.2" height="104.50" fill="#D69509"/>
<rect x="498.20" y="466.50" width="6.2" height="6.00" fill="#F0A3A0"/>
<rect x="498.20" y="472.50" width="6.2" height="22.20" fill="#C24325"/>
<rect x="498.20" y="494.70" width="6.2" height="7.00" fill="#A6C1E6"/>
<rect x="498.20" y="501.70" width="6.2" height="3.00" fill="#2F52A8"/>
<rect x="513.76" y="359.90" width="6.2" height="106.60" fill="#E8900C"/>
<rect x="513.76" y="466.50" width="6.2" height="5.30" fill="#F0A3A0"/>
<rect x="513.76" y="471.80" width="6.2" height="22.90" fill="#D43A28"/>
<rect x="513.76" y="494.70" width="6.2" height="7.00" fill="#A6C1E6"/>
<rect x="513.76" y="501.70" width="6.2" height="3.00" fill="#2F52A8"/>
<path d="M73.40 328.3 V504.7 H524.64" fill="none" stroke="#8c8c8c" stroke-width="1"/>
<path d="M69.40 504.70 H73.40" stroke="#8c8c8c" stroke-width="1"/>
<text x="61" y="509.50" text-anchor="end" style="font-family:'Liberation Serif',serif;font-size:14px" fill="#000">0</text>
<path d="M69.40 475.30 H73.40" stroke="#8c8c8c" stroke-width="1"/>
<text x="61" y="480.10" text-anchor="end" style="font-family:'Liberation Serif',serif;font-size:14px" fill="#000">50</text>
<path d="M69.40 445.90 H73.40" stroke="#8c8c8c" stroke-width="1"/>
<text x="61" y="450.70" text-anchor="end" style="font-family:'Liberation Serif',serif;font-size:14px" fill="#000">100</text>
<path d="M69.40 416.50 H73.40" stroke="#8c8c8c" stroke-width="1"/>
<text x="61" y="421.30" text-anchor="end" style="font-family:'Liberation Serif',serif;font-size:14px" fill="#000">150</text>
<path d="M69.40 387.10 H73.40" stroke="#8c8c8c" stroke-width="1"/>
<text x="61" y="391.90" text-anchor="end" style="font-family:'Liberation Serif',serif;font-size:14px" fill="#000">200</text>
<path d="M69.40 357.70 H73.40" stroke="#8c8c8c" stroke-width="1"/>
<text x="61" y="362.50" text-anchor="end" style="font-family:'Liberation Serif',serif;font-size:14px" fill="#000">250</text>
<path d="M69.40 328.30 H73.40" stroke="#8c8c8c" stroke-width="1"/>
<text x="61" y="333.10" text-anchor="end" style="font-family:'Liberation Serif',serif;font-size:14px" fill="#000">300</text>
<path d="M81.18 504.7 v3" stroke="#8c8c8c" stroke-width="1"/>
<path d="M96.74 504.7 v3" stroke="#8c8c8c" stroke-width="1"/>
<path d="M112.30 504.7 v3" stroke="#8c8c8c" stroke-width="1"/>
<path d="M127.86 504.7 v3" stroke="#8c8c8c" stroke-width="1"/>
<path d="M143.42 504.7 v3" stroke="#8c8c8c" stroke-width="1"/>
<path d="M158.98 504.7 v3" stroke="#8c8c8c" stroke-width="1"/>
<path d="M174.54 504.7 v3" stroke="#8c8c8c" stroke-width="1"/>
<path d="M190.10 504.7 v3" stroke="#8c8c8c" stroke-width="1"/>
<path d="M205.66 504.7 v3" stroke="#8c8c8c" stroke-width="1"/>
<path d="M221.22 504.7 v3" stroke="#8c8c8c" stroke-width="1"/>
<path d="M236.78 504.7 v3" stroke="#8c8c8c" stroke-width="1"/>
<path d="M252.34 504.7 v3" stroke="#8c8c8c" stroke-width="1"/>
<path d="M267.90 504.7 v3" stroke="#8c8c8c" stroke-width="1"/>
<path d="M283.46 504.7 v3" stroke="#8c8c8c" stroke-width="1"/>
<path d="M299.02 504.7 v3" stroke="#8c8c8c" stroke-width="1"/>
<path d="M314.58 504.7 v3" stroke="#8c8c8c" stroke-width="1"/>
<path d="M330.14 504.7 v3" stroke="#8c8c8c" stroke-width="1"/>
<path d="M345.70 504.7 v3" stroke="#8c8c8c" stroke-width="1"/>
<path d="M361.26 504.7 v3" stroke="#8c8c8c" stroke-width="1"/>
<path d="M376.82 504.7 v3" stroke="#8c8c8c" stroke-width="1"/>
<path d="M392.38 504.7 v3" stroke="#8c8c8c" stroke-width="1"/>
<path d="M407.94 504.7 v3" stroke="#8c8c8c" stroke-width="1"/>
<path d="M423.50 504.7 v3" stroke="#8c8c8c" stroke-width="1"/>
<path d="M439.06 504.7 v3" stroke="#8c8c8c" stroke-width="1"/>
<path d="M454.62 504.7 v3" stroke="#8c8c8c" stroke-width="1"/>
<path d="M470.18 504.7 v3" stroke="#8c8c8c" stroke-width="1"/>
<path d="M485.74 504.7 v3" stroke="#8c8c8c" stroke-width="1"/>
<path d="M501.30 504.7 v3" stroke="#8c8c8c" stroke-width="1"/>
<path d="M516.86 504.7 v3" stroke="#8c8c8c" stroke-width="1"/>
<path d="M524.64 504.7 v3" stroke="#8c8c8c" stroke-width="1"/>
<text x="81.18" y="525.7" text-anchor="middle" style="font-family:'Liberation Serif',serif;font-size:14px" fill="#000">1994</text>
<text x="112.30" y="525.7" text-anchor="middle" style="font-family:'Liberation Serif',serif;font-size:14px" fill="#000">1996</text>
<text x="143.42" y="525.7" text-anchor="middle" style="font-family:'Liberation Serif',serif;font-size:14px" fill="#000">1998</text>
<text x="174.54" y="525.7" text-anchor="middle" style="font-family:'Liberation Serif',serif;font-size:14px" fill="#000">2000</text>
<text x="205.66" y="525.7" text-anchor="middle" style="font-family:'Liberation Serif',serif;font-size:14px" fill="#000">2002</text>
<text x="236.78" y="525.7" text-anchor="middle" style="font-family:'Liberation Serif',serif;font-size:14px" fill="#000">2004</text>
<text x="267.90" y="525.7" text-anchor="middle" style="font-family:'Liberation Serif',serif;font-size:14px" fill="#000">2006</text>
<text x="299.02" y="525.7" text-anchor="middle" style="font-family:'Liberation Serif',serif;font-size:14px" fill="#000">2008</text>
<text x="330.14" y="525.7" text-anchor="middle" style="font-family:'Liberation Serif',serif;font-size:14px" fill="#000">2010</text>
<text x="361.26" y="525.7" text-anchor="middle" style="font-family:'Liberation Serif',serif;font-size:14px" fill="#000">2012</text>
<text x="392.38" y="525.7" text-anchor="middle" style="font-family:'Liberation Serif',serif;font-size:14px" fill="#000">2014</text>
<text x="423.50" y="525.7" text-anchor="middle" style="font-family:'Liberation Serif',serif;font-size:14px" fill="#000">2016</text>
<text x="454.62" y="525.7" text-anchor="middle" style="font-family:'Liberation Serif',serif;font-size:14px" fill="#000">2018</text>
<text x="485.74" y="525.7" text-anchor="middle" style="font-family:'Liberation Serif',serif;font-size:14px" fill="#000">2020</text>
<text x="516.86" y="525.7" text-anchor="middle" style="font-family:'Liberation Serif',serif;font-size:14px" fill="#000">2022</text>
<text transform="translate(33 416.6) rotate(-90)" text-anchor="middle" style="font-family:'Liberation Serif',serif;font-size:14.35px;font-weight:bold" fill="#000">Methane emissions (Gg)</text>
<text x="299.5" y="547.4" text-anchor="middle" style="font-family:'Liberation Serif',serif;font-size:14.2px;font-weight:bold" fill="#000">Year</text>
<rect x="45" y="572" width="12" height="12" fill="#EAFDFD"/>
<rect x="208" y="571" width="14" height="14" fill="#EEFBFD"/>
<rect x="368" y="572" width="16" height="12" fill="#FFE9F8"/>
<rect x="45" y="592" width="12" height="13" fill="#FFEEF8"/>
<rect x="208" y="592" width="14" height="14" fill="#FFF0F8"/>
<rect x="50" y="575" width="7" height="7" fill="#2D5BB5"/>
<text x="60.80" y="582.5" style="font-family:'Liberation Serif',serif;font-size:14.35px" fill="#000">Commercial dairy</text>
<rect x="211.4" y="575.2" width="7" height="7" fill="#B4BEEA"/>
<text x="221.70" y="582.5" style="font-family:'Liberation Serif',serif;font-size:14.35px" fill="#000">Emergent dairy</text>
<rect x="372.2" y="575" width="7" height="7" fill="#A8552E"/>
<text x="383.30" y="582.5" style="font-family:'Liberation Serif',serif;font-size:14.35px" fill="#000">Commercial beef</text>
<rect x="50" y="595.5" width="7" height="6.6" fill="#D2AC98"/>
<text x="60.80" y="603" style="font-family:'Liberation Serif',serif;font-size:14.35px" fill="#000">Emergent beef</text>
<rect x="211.4" y="595.5" width="7" height="6.6" fill="#B89E10"/>
<text x="221.70" y="603" style="font-family:'Liberation Serif',serif;font-size:14.35px" fill="#000">Traditional beef</text>
</svg>
</body></html>
